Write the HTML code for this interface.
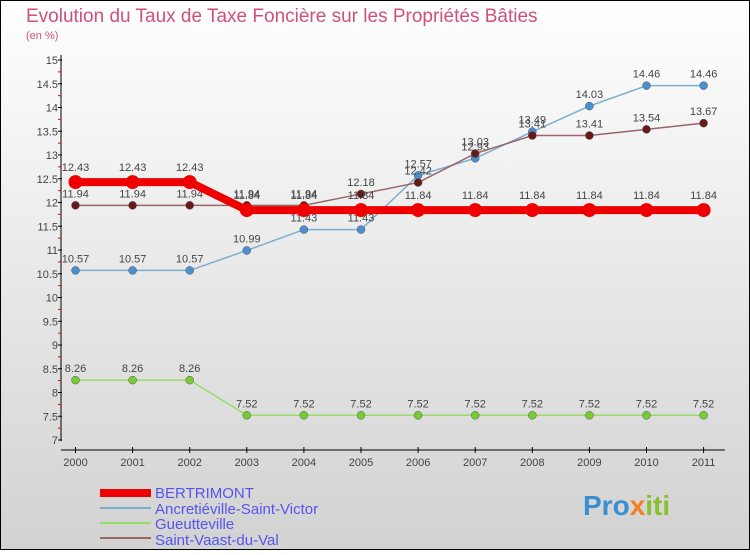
<!DOCTYPE html>
<html><head><meta charset="utf-8"><style>
body{margin:0;width:750px;height:550px;overflow:hidden;font-family:"Liberation Sans",sans-serif}
svg text{font-family:"Liberation Sans",sans-serif}
</style></head><body>
<svg id="c" width="750" height="550" xmlns="http://www.w3.org/2000/svg">
<defs><linearGradient id="bg" x1="0" y1="0" x2="0" y2="1"><stop offset="0" stop-color="#ffffff"/><stop offset="1" stop-color="#d2d2d2"/></linearGradient></defs>
<rect x="0.5" y="0.5" width="749" height="549" fill="url(#bg)" stroke="#000"/>
<text x="26" y="22" font-size="19" fill="#d0507a">Evolution du Taux de Taxe Foncière sur les Propriétés Bâties</text>
<text x="26" y="39" font-size="11" fill="#d0507a">(en %)</text>
<g id="axes"></g><g id="series"></g>
<g>
<rect x="100" y="489" width="51" height="8" fill="#ee0000"/>
<text x="155" y="498" font-size="15" fill="#5555ee">BERTRIMONT</text>
<rect x="100" y="507" width="51" height="2" fill="#7aaed0"/>
<text x="155" y="514" font-size="15" fill="#5555ee">Ancretiéville-Saint-Victor</text>
<rect x="100" y="522" width="51" height="2" fill="#99dd66"/>
<text x="155" y="529" font-size="15" fill="#5555ee">Gueutteville</text>
<rect x="100" y="537" width="51" height="2" fill="#996666"/>
<text x="155" y="545" font-size="15" fill="#5555ee">Saint-Vaast-du-Val</text>
</g>
<g><text x="583" y="515" font-size="28" font-weight="bold" fill="#3a8fd0">Pro<tspan fill="#f08020">x</tspan><tspan fill="#88c030">iti</tspan></text></g>
</svg>
<script>
const years=[2000,2001,2002,2003,2004,2005,2006,2007,2008,2009,2010,2011];
const bertrimont=[12.43,12.43,12.43,11.84,11.84,11.84,11.84,11.84,11.84,11.84,11.84,11.84];
const ancretieville=[10.57,10.57,10.57,10.99,11.43,11.43,12.57,12.93,13.49,14.03,14.46,14.46];
const gueutteville=[8.26,8.26,8.26,7.52,7.52,7.52,7.52,7.52,7.52,7.52,7.52,7.52];
const saintVaast=[11.94,11.94,11.94,11.94,11.94,12.18,12.42,13.03,13.41,13.41,13.54,13.67];
const yTicks=[7,7.5,8,8.5,9,9.5,10,10.5,11,11.5,12,12.5,13,13.5,14,14.5,15];
const NS="http://www.w3.org/2000/svg";
const X=i=>75.5+i*57.1, Y=v=>440-(v-7)*47.5;
function mk(t,a,p){const e=document.createElementNS(NS,t);for(const k in a)e.setAttribute(k,a[k]);p.appendChild(e);return e;}
const ax=document.getElementById('axes');
let l=mk('line',{x1:61,y1:55,x2:61,y2:441,stroke:'#000'},ax);


l=mk('line',{x1:61,y1:450,x2:725,y2:450,stroke:'#000'},ax);


yTicks.forEach(v=>{
 mk('line',{x1:58,y1:Y(v),x2:62,y2:Y(v),stroke:'#000'},ax);
 mk('line',{x1:58,y1:Y(v+0.25),x2:61,y2:Y(v+0.25),stroke:v<15?'#e00':'none'},ax);
 const t=mk('text',{x:58,y:Y(v)+4,'font-size':11,fill:'#444','text-anchor':'end'},ax);t.textContent=v;
 
 
});
years.forEach((y,i)=>{
 mk('line',{x1:X(i),y1:447,x2:X(i),y2:453,stroke:'#000'},ax);
 const t=mk('text',{x:X(i),y:466,'font-size':11,fill:'#444','text-anchor':'middle'},ax);t.textContent=y;
 
 
});
const sg=document.getElementById('series');
function draw(vals,col,dot,w,r,name,lab){
 const g=mk('g',{},sg);
 
 
 mk('polyline',{points:vals.map((v,i)=>X(i)+','+Y(v)).join(' '),fill:'none',stroke:col,'stroke-width':w},g);
 vals.forEach((v,i)=>{
  const c=mk('circle',{cx:X(i),cy:Y(v),r:r,fill:dot,stroke:w>3?'none':'#555','stroke-width':0.5},g);
  
  
  const t=mk('text',{x:X(i),y:Y(v)-8-(w>3?3:0),'font-size':11,fill:'#444','text-anchor':'middle'},g);t.textContent=v;
  
  
 });
}
draw(gueutteville,'#99dd66','#77cc33',1.5,4,'series-gueutteville');
draw(ancretieville,'#7aaed0','#4a90d0',1.5,4,'series-ancretieville');
draw(saintVaast,'#996666','#661a1a',1.5,4,'series-saint-vaast');
draw(bertrimont,'#ee0000','#ee0000',8,7,'series-bertrimont');
</script>
</body></html>
